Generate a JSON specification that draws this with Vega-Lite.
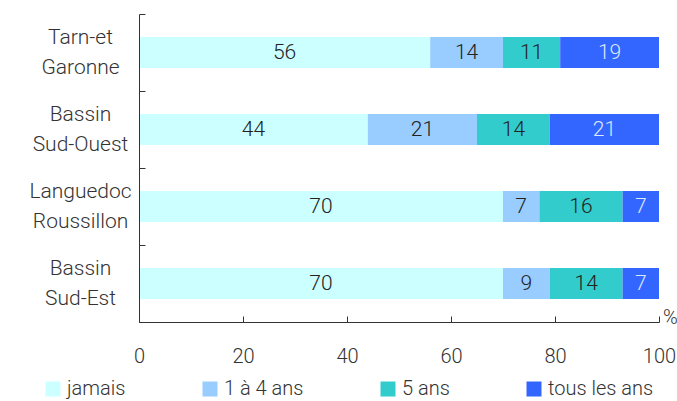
{
  "$schema": "https://vega.github.io/schema/vega-lite/v6.json",
  "width": 520,
  "height": 308,
  "autosize": {"type": "none"},
  "padding": {"left": 139, "top": 14, "right": 18, "bottom": 79},
  "config": {
    "font": "Roboto",
    "view": {"stroke": null},
    "axis": {"labelFont": "Roboto", "titleFont": "Roboto", "labelFontWeight": 300, "titleFontWeight": 300}
  },
  "data": {
    "values": [
      {"region": "Tarn-et Garonne", "freq": "jamais", "rank": 1, "pct": 56},
      {"region": "Tarn-et Garonne", "freq": "1 à 4 ans", "rank": 2, "pct": 14},
      {"region": "Tarn-et Garonne", "freq": "5 ans", "rank": 3, "pct": 11},
      {"region": "Tarn-et Garonne", "freq": "tous les ans", "rank": 4, "pct": 19},
      {"region": "Bassin Sud-Ouest", "freq": "jamais", "rank": 1, "pct": 44},
      {"region": "Bassin Sud-Ouest", "freq": "1 à 4 ans", "rank": 2, "pct": 21},
      {"region": "Bassin Sud-Ouest", "freq": "5 ans", "rank": 3, "pct": 14},
      {"region": "Bassin Sud-Ouest", "freq": "tous les ans", "rank": 4, "pct": 21},
      {"region": "Languedoc Roussillon", "freq": "jamais", "rank": 1, "pct": 70},
      {"region": "Languedoc Roussillon", "freq": "1 à 4 ans", "rank": 2, "pct": 7},
      {"region": "Languedoc Roussillon", "freq": "5 ans", "rank": 3, "pct": 16},
      {"region": "Languedoc Roussillon", "freq": "tous les ans", "rank": 4, "pct": 7},
      {"region": "Bassin Sud-Est", "freq": "jamais", "rank": 1, "pct": 70},
      {"region": "Bassin Sud-Est", "freq": "1 à 4 ans", "rank": 2, "pct": 9},
      {"region": "Bassin Sud-Est", "freq": "5 ans", "rank": 3, "pct": 14},
      {"region": "Bassin Sud-Est", "freq": "tous les ans", "rank": 4, "pct": 7}
    ]
  },
  "encoding": {
    "y": {
      "field": "region",
      "type": "nominal",
      "sort": ["Tarn-et Garonne", "Bassin Sud-Ouest", "Languedoc Roussillon", "Bassin Sud-Est"],
      "scale": {"paddingInner": 0, "paddingOuter": 0},
      "axis": {
        "title": null,
        "zindex": 2,
        "domain": true,
        "ticks": true,
        "domainColor": "#333333",
        "tickColor": "#333333",
        "tickSize": -6,
        "tickBand": "extent",
        "labelExpr": "split(datum.label, ' ')",
        "labelFontSize": 21,
        "labelLineHeight": 30,
        "labelAlign": "center",
        "labelBaseline": "middle",
        "labelOffset": -15,
        "labelPadding": 65,
        "labelColor": "#333333"
      }
    },
    "x": {
      "field": "pct",
      "type": "quantitative",
      "stack": "zero",
      "scale": {"domain": [0, 100], "nice": false},
      "axis": {
        "title": "%",
        "zindex": 2,
        "titleFontSize": 20,
        "titleColor": "#333333",
        "titleX": 531,
        "titleY": -5,
        "titleAlign": "center",
        "titleBaseline": "middle",
        "titleAngle": 0,
        "values": [0, 20, 40, 60, 80, 100],
        "grid": false,
        "domainColor": "#333333",
        "tickColor": "#333333",
        "tickSize": -6,
        "labelFontSize": 20,
        "labelPadding": 30,
        "labelColor": "#333333",
        "labelFlush": false
      }
    },
    "order": {"field": "rank", "type": "quantitative"}
  },
  "layer": [
    {
      "mark": {"type": "bar", "height": {"band": 0.4}},
      "encoding": {
        "color": {
          "field": "freq",
          "type": "nominal",
          "scale": {
            "domain": ["jamais", "1 à 4 ans", "5 ans", "tous les ans"],
            "range": ["#CCFFFF", "#99CCFF", "#33CCCC", "#3366FF"]
          },
          "legend": {
            "title": null,
            "orient": "none",
            "direction": "horizontal",
            "legendX": -96,
            "legendY": 365,
            "symbolType": "square",
            "symbolSize": 225,
            "symbolStrokeWidth": 0,
            "symbolOpacity": 1,
            "labelFont": "Roboto",
            "labelFontWeight": 300,
            "labelFontSize": 20,
            "labelColor": "#333333",
            "labelOffset": 4,
            "columnPadding": 74
          }
        }
      }
    },
    {
      "mark": {"type": "text", "font": "Roboto", "fontWeight": 300, "fontSize": 21, "baseline": "middle", "align": "center"},
      "encoding": {
        "x": {"field": "pct", "type": "quantitative", "stack": "zero", "bandPosition": 0.5},
        "text": {"field": "pct", "type": "quantitative", "format": ".0f"},
        "color": {
          "condition": {"test": "datum.freq === 'tous les ans'", "value": "#DDE8FF"},
          "value": "#222222"
        }
      }
    }
  ]
}
